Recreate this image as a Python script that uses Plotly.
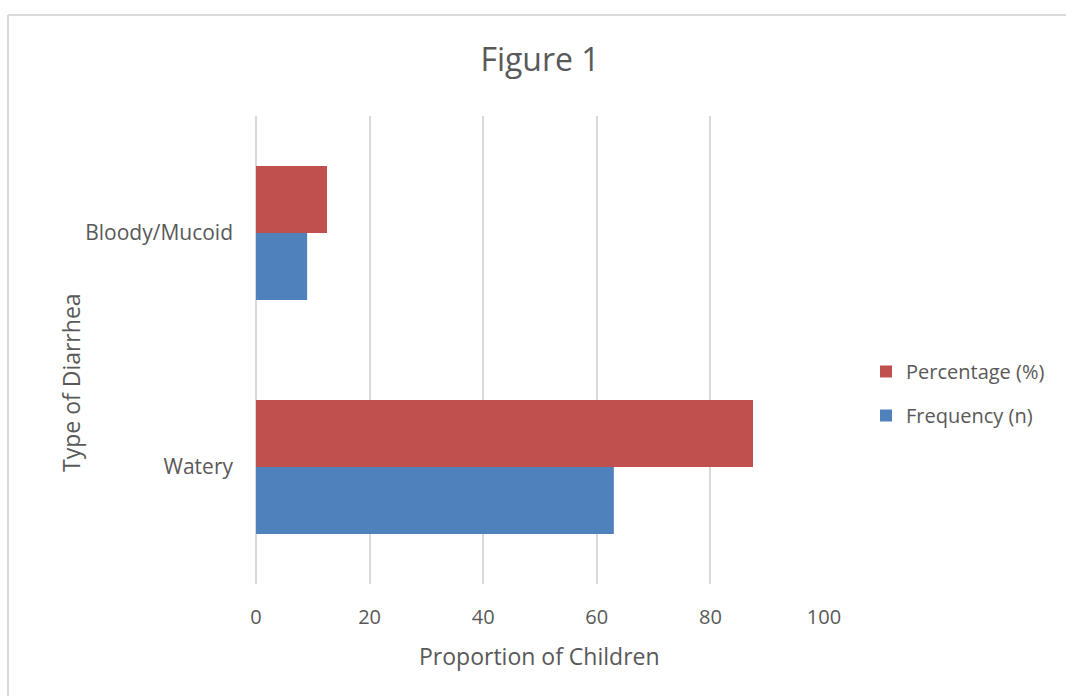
import plotly.graph_objects as go

# Diarrhea type breakdown
categories = ["Watery", "Bloody/Mucoid"]
frequency_n = [63, 9]
percentage = [87.5, 12.5]
x_ticks = [0, 20, 40, 60, 80, 100]

BLUE = "#4F81BD"
RED = "#C0504D"
GRID = "#D9D9D9"
TEXT = "#595959"
FONT = "Open Sans"

fig = go.Figure()
fig.add_trace(go.Bar(
    y=categories, x=frequency_n, orientation="h", name="Frequency (n)",
    marker=dict(color=BLUE, line=dict(width=0)), legendgroup="f",
    legendrank=2,
))
fig.add_trace(go.Bar(
    y=categories, x=percentage, orientation="h", name="Percentage (%)",
    marker=dict(color=RED, line=dict(width=0)), legendgroup="p",
    legendrank=1,
))

W, H = 1066, 696
L, R, T, B = 256, 242, 116, 112
pw, ph = W - L - R, H - T - B


def px_x(p):
    return (p - L) / pw


def px_y(p):
    return 1 - (p - T) / ph


fig.update_layout(
    width=W, height=H,
    margin=dict(l=L, r=R, t=T, b=B),
    paper_bgcolor="white", plot_bgcolor="white",
    font=dict(family=FONT, color=TEXT, size=20),
    barmode="group", bargap=0.427, bargroupgap=0,
    title=dict(text="Figure 1", x=0.5, xanchor="center", xref="paper",
               y=1 - 60 / H, yanchor="middle",
               font=dict(size=32, family=FONT, color=TEXT)),
    xaxis=dict(range=[0, 100], tickvals=x_ticks, showgrid=True,
               gridcolor=GRID, gridwidth=1.5, zeroline=True,
               zerolinecolor=GRID, zerolinewidth=1.5, showline=False,
               ticks="", ticklabelstandoff=19, tickfont=dict(size=20)),
    yaxis=dict(range=[-0.5, 1.5], showgrid=False, zeroline=False,
               showline=False, ticks="", ticklabelstandoff=22,
               tickfont=dict(size=21)),
    legend=dict(x=px_x(866), y=px_y(352), xanchor="left", yanchor="top",
                traceorder="grouped", tracegroupgap=15,
                font=dict(size=20), itemwidth=30,
                bgcolor="rgba(0,0,0,0)"),
    annotations=[
        dict(text="Proportion of Children", xref="paper", yref="paper",
             x=px_x(539), y=px_y(656), xanchor="center", yanchor="middle",
             showarrow=False, font=dict(size=23)),
        dict(text="Type of Diarrhea", xref="paper", yref="paper",
             x=px_x(71), y=px_y(383), xanchor="center", yanchor="middle",
             textangle=-90, showarrow=False, font=dict(size=23)),
    ],
    shapes=[
        dict(type="line", xref="paper", yref="paper",
             x0=px_x(8), x1=px_x(W + 5), y0=px_y(15), y1=px_y(15),
             line=dict(color=GRID, width=2)),
        dict(type="line", xref="paper", yref="paper",
             x0=px_x(8), x1=px_x(8), y0=px_y(15), y1=px_y(H + 5),
             line=dict(color=GRID, width=2)),
    ],
)

fig.write_html("out.html")
